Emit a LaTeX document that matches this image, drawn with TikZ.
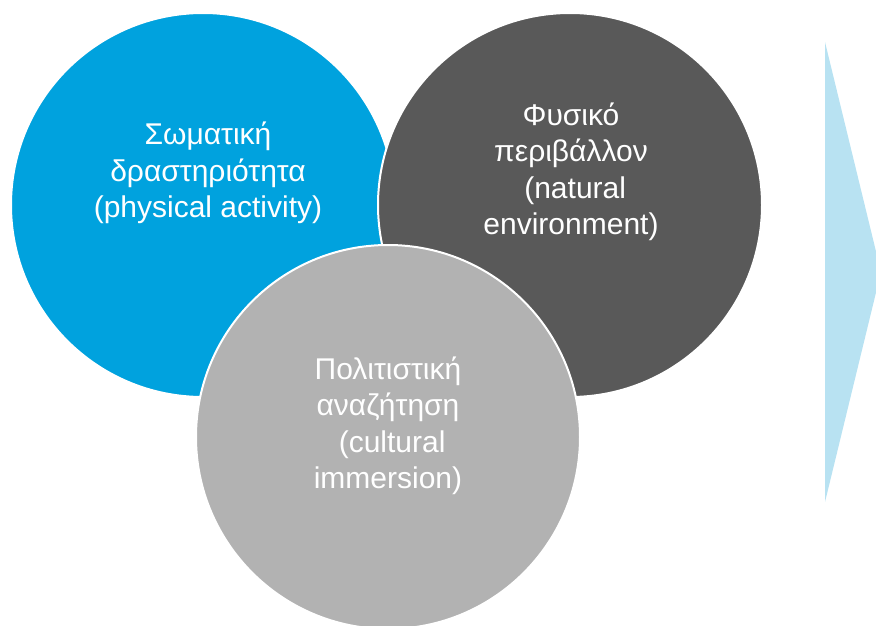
\documentclass[tikz,border=0pt]{standalone}
\usepackage{fontspec}
\setmainfont{Liberation Sans}
\usepackage{tikz}
\usetikzlibrary{positioning}
\usepackage{xcolor}

\definecolor{skyblue}{RGB}{0,162,222}
\definecolor{darkgrey}{RGB}{89,89,89}
\definecolor{lightgrey}{RGB}{178,178,178}
\definecolor{paleblue}{RGB}{184,226,242}

\begin{document}
\begin{tikzpicture}[
    x=1pt, y=-1pt,
    disc/.style={
        circle,
        draw=white,
        line width=2pt,
        inner sep=0pt,
        minimum size=384pt
    },
    label/.style={
        align=center,
        text=white,
        font=\fontsize{30}{36.5}\selectfont
    }
]
\useasboundingbox (0,0) rectangle (876,626);
\clip (0,0) rectangle (876,626);

% Circles (blue, dark, light on top)
\node[disc, fill=skyblue] (body) at (203,205) {};
\node[disc, fill=darkgrey] (nature) at (570,205) {};
\node[disc, fill=lightgrey] (culture) at (388,437) {};

% Texts
\node[label] (bodytext) at (208,173) {Σωματική\\δραστηριότητα\\(physical activity)};
\node[label] (naturetext) at (571,172) {Φυσικό\\περιβάλλον\\\ (natural\\environment)};
\node[label] (culturetext) at (388,426) {Πολιτιστική\\αναζήτηση\\\ (cultural\\immersion)};

% Arrow at the right
\fill[paleblue] (825,42) -- (881,272) -- (825,502) -- cycle;

\end{tikzpicture}
\end{document}
